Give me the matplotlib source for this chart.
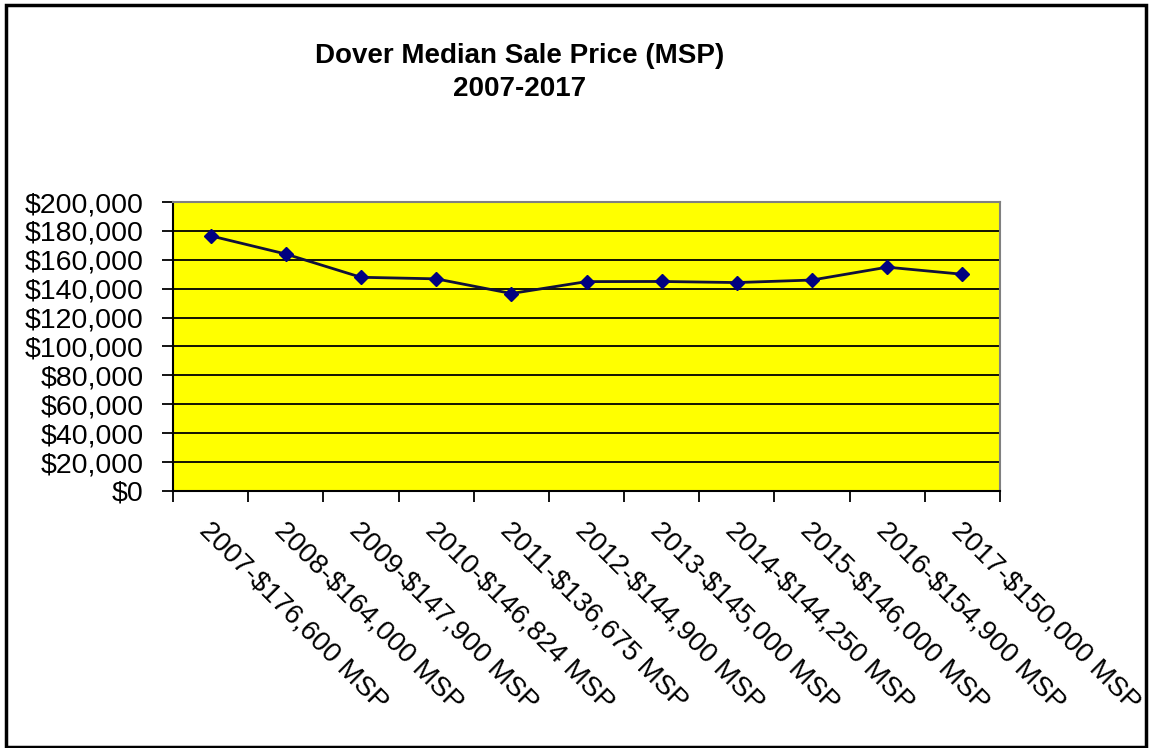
import matplotlib
matplotlib.use("Agg")
import matplotlib.pyplot as plt
from matplotlib.ticker import FuncFormatter, MultipleLocator
from matplotlib.patches import Rectangle

# Данные
years = ["2007", "2008", "2009", "2010", "2011", "2012", "2013", "2014", "2015", "2016", "2017"]
msp = [176600, 164000, 147900, 146824, 136675, 144900, 145000, 144250, 146000, 154900, 150000]
labels = [f"{y}-${v:,} MSP" for y, v in zip(years, msp)]

plt.rcParams['font.family'] = ['Liberation Sans', 'DejaVu Sans']

fig = plt.figure(figsize=(11.51, 7.48), dpi=100)
ax = fig.add_axes([173/1151, 1 - 491/748, 827/1151, 289/748])
ax.set_facecolor('#FFFF00')

x = list(range(len(msp)))
ax.plot(x, msp, color='#10103a', linewidth=2, marker='D', markersize=7.5,
        markerfacecolor='#000080', markeredgecolor='#000080', zorder=3)

ax.set_xlim(-0.5, len(msp) - 0.5)
ax.set_ylim(0, 200000)
ax.yaxis.set_major_locator(MultipleLocator(20000))
ax.yaxis.set_major_formatter(FuncFormatter(lambda v, p: f"${v:,.0f}"))
ax.grid(axis='y', color='black', linewidth=1.3)
ax.set_axisbelow(True)

# Тики по границам категорий
ax.set_xticks([i - 0.5 for i in range(len(msp) + 1)])
ax.set_xticklabels([])
ax.tick_params(axis='x', direction='out', length=8, width=1.3, color='black')
ax.tick_params(axis='y', direction='out', length=8, width=1.3, color='black',
               labelsize=20.5, pad=13)

for s in ['top', 'right']:
    ax.spines[s].set_color('#808080')
    ax.spines[s].set_linewidth(1.5)
for s in ['left', 'bottom']:
    ax.spines[s].set_color('black')
    ax.spines[s].set_linewidth(1.5)

# Подписи категорий
for i, lab in enumerate(labels):
    ax.annotate(lab, xy=(i, 0), xycoords=('data', 'data'), xytext=(2, -26),
                textcoords='offset pixels', rotation=-45, rotation_mode='anchor',
                ha='left', va='top', fontsize=20)

fig.text(520/1151, 1 - 56/748, "Dover Median Sale Price (MSP)", ha='center', va='center',
         fontsize=20, fontweight='bold')
fig.text(520/1151, 1 - 89/748, "2007-2017", ha='center', va='center',
         fontsize=20, fontweight='bold')

fig.patches.append(Rectangle((6/1151, 1/748), 1140/1151, 742/748, transform=fig.transFigure,
                             fill=False, edgecolor='black', linewidth=2.5))

fig.savefig("out.png", dpi=100)
